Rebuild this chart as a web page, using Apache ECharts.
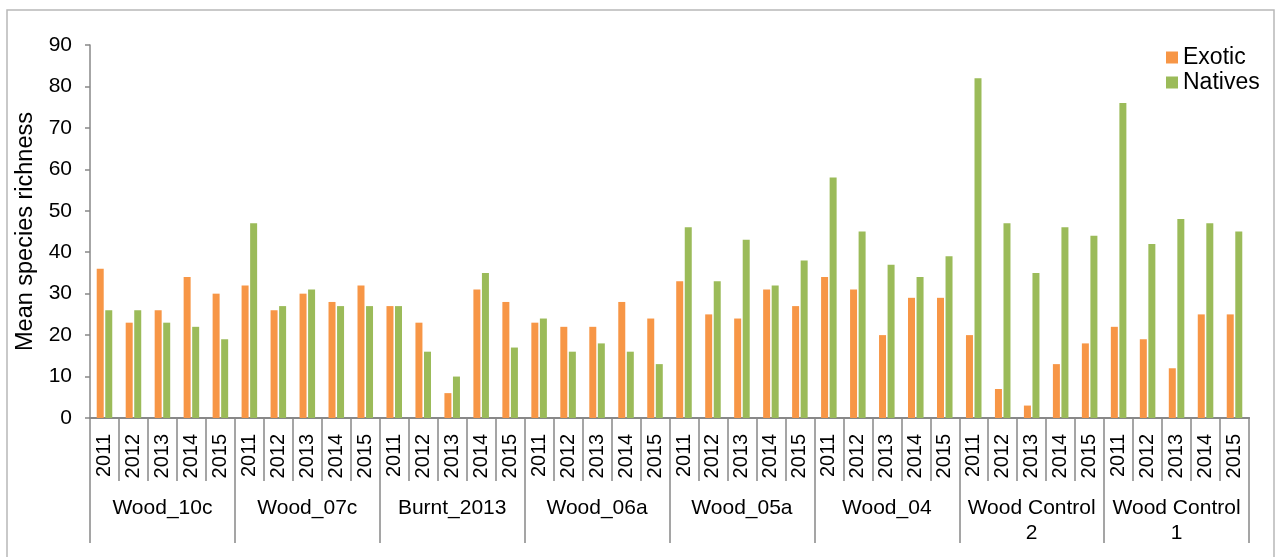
<!DOCTYPE html>
<html>
<head>
<meta charset="utf-8">
<script src="https://cdn.jsdelivr.net/npm/echarts@6/dist/echarts.min.js"></script>
<style>
html,body{margin:0;padding:0;background:#fff;}
#chart{width:1277px;height:557px;}
</style>
</head>
<body>
<div id="chart"></div>
<script>
const groups = ["Wood_10c","Wood_07c","Burnt_2013","Wood_06a","Wood_05a","Wood_04","Wood Control\n2","Wood Control\n1"];
const years = ["2011","2012","2013","2014","2015"];
const exotic = [
  36,23,26,34,30,
  32,26,30,28,32,
  27,23,6,31,28,
  23,22,22,28,24,
  33,25,24,31,27,
  34,31,20,29,29,
  20,7,3,13,18,
  22,19,12,25,25
];
const natives = [
  26,26,23,22,19,
  47,27,31,27,27,
  27,16,10,35,17,
  24,16,18,16,13,
  46,33,43,32,38,
  58,45,37,34,39,
  82,47,35,46,44,
  76,42,48,47,45
];
const yearCats = [];
groups.forEach(g => years.forEach(y => yearCats.push(y)));

const FONT = "'Liberation Sans', Arial, Helvetica, sans-serif";
const axisGray = '#888888';
const chart = echarts.init(document.getElementById('chart'));
chart.setOption({
  animation: false,
  backgroundColor: '#ffffff',
  textStyle: {fontFamily: FONT, color: '#000'},
  graphic: [{
    type: 'rect', silent: true, z: -1,
    shape: {x: 7, y: 10, width: 1267, height: 560},
    style: {fill: 'none', stroke: '#b8b8b8', lineWidth: 1.5}
  }],
  legend: {
    orient: 'vertical', left: 1166, top: 46, itemGap: 2, padding: 0,
    itemWidth: 12, itemHeight: 12, icon: 'rect',
    textStyle: {fontSize: 23, fontFamily: FONT, color: '#000'},
    data: ['Exotic', 'Natives']
  },
  grid: {left: 90, right: 28, top: 45, bottom: 139, containLabel: false},
  yAxis: {
    type: 'value', min: 0, max: 90, interval: 10,
    name: 'Mean species richness', nameLocation: 'middle', nameRotate: 90, nameGap: 45,
    nameTextStyle: {fontSize: 23.5, fontFamily: FONT, color: '#000'},
    axisLine: {show: true, lineStyle: {color: axisGray, width: 1.5}},
    axisTick: {show: true, length: 5, lineStyle: {color: axisGray, width: 1.5}},
    axisLabel: {fontSize: 21, fontFamily: FONT, color: '#000', margin: 18},
    splitLine: {show: false}
  },
  xAxis: [{
    type: 'category', data: yearCats, position: 'bottom',
    axisLine: {show: true, lineStyle: {color: axisGray, width: 2}},
    axisTick: {show: true, interval: 0, length: 63, lineStyle: {color: axisGray, width: 1.5}},
    axisLabel: {interval: 0, rotate: 90, fontSize: 20, fontFamily: FONT, color: '#000', margin: 16}
  }, {
    type: 'category', data: groups, position: 'bottom',
    axisLine: {show: true, lineStyle: {color: axisGray, width: 2}},
    axisTick: {show: true, interval: 0, length: 125, lineStyle: {color: axisGray, width: 1.5}},
    axisLabel: {interval: 0, fontSize: 21, fontFamily: FONT, color: '#000', margin: 78, lineHeight: 25}
  }],
  series: [{
    name: 'Exotic', type: 'bar', xAxisIndex: 0, data: exotic,
    barWidth: 7, barGap: '22%',
    itemStyle: {color: '#F79646'}
  }, {
    name: 'Natives', type: 'bar', xAxisIndex: 0, data: natives,
    barWidth: 7, barGap: '22%',
    itemStyle: {color: '#9BBB59'}
  }]
});
</script>
</body>
</html>
